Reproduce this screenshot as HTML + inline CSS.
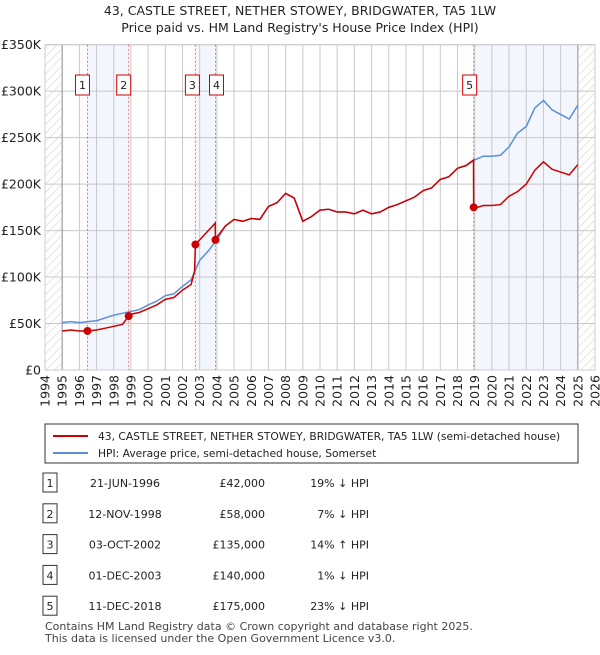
<!DOCTYPE html>
<html><head><meta charset="utf-8"><style>
body{margin:0;background:#fff;font-family:"Liberation Sans","DejaVu Sans",sans-serif;}
svg text{font-family:"DejaVu Sans","Liberation Sans",sans-serif;}
</style></head><body>
<svg id="c" width="600" height="650" xmlns="http://www.w3.org/2000/svg">
<defs><pattern id="hatch" width="6" height="6" patternUnits="userSpaceOnUse" patternTransform="rotate(45)"><line x1="0" y1="0" x2="0" y2="6" stroke="#ccc" stroke-width="1"/></pattern></defs>
<text x="300" y="15" text-anchor="middle" font-size="12.5" fill="#222">43, CASTLE STREET, NETHER STOWEY, BRIDGWATER, TA5 1LW</text>
<text x="300" y="32" text-anchor="middle" font-size="12.5" fill="#222">Price paid vs. HM Land Registry's House Price Index (HPI)</text>
<g id="plot"></g>
<g>
<rect x="45" y="424" width="533" height="39" fill="#fff" stroke="#333" stroke-width="1"/>
<line x1="53" y1="436" x2="88" y2="436" stroke="#cc0000" stroke-width="2"/>
<text x="98" y="440" font-size="10.7" fill="#222">43, CASTLE STREET, NETHER STOWEY, BRIDGWATER, TA5 1LW (semi-detached house)</text>
<line x1="53" y1="453" x2="88" y2="453" stroke="#5b8fd6" stroke-width="2"/>
<text x="98" y="457" font-size="10.7" fill="#222">HPI: Average price, semi-detached house, Somerset</text>
</g>
<g id="table" font-size="11" fill="#222"></g>
<text x="45" y="630" font-size="11" fill="#444">Contains HM Land Registry data © Crown copyright and database right 2025.</text>
<text x="45" y="642" font-size="11" fill="#444">This data is licensed under the Open Government Licence v3.0.</text>
</svg>
<script>
const hpiYears=[1995,1995.5,1996,1996.5,1997,1997.5,1998,1998.5,1999,1999.5,2000,2000.5,2001,2001.5,2002,2002.5,2003,2003.5,2004,2004.5,2005,2005.5,2006,2006.5,2007,2007.5,2008,2008.5,2009,2009.5,2010,2010.5,2011,2011.5,2012,2012.5,2013,2013.5,2014,2014.5,2015,2015.5,2016,2016.5,2017,2017.5,2018,2018.5,2019,2019.5,2020,2020.5,2021,2021.5,2022,2022.5,2023,2023.5,2024,2024.5,2025];
const hpiValues=[51,52,51,52,53,56,59,61,63,65,70,74,80,82,90,97,118,128,140,155,162,160,163,162,176,180,190,185,160,165,172,173,170,170,168,172,168,170,175,178,182,186,193,196,205,208,217,220,226,230,230,231,240,255,262,282,290,280,275,270,285];
const priceYears=[1995,1995.5,1996,1996.47,1997,1997.5,1998,1998.5,1998.87,1999,1999.5,2000,2000.5,2001,2001.5,2002,2002.5,2002.7,2002.75,2003,2003.5,2003.9,2003.92,2004,2004.5,2005,2005.5,2006,2006.5,2007,2007.5,2008,2008.5,2009,2009.5,2010,2010.5,2011,2011.5,2012,2012.5,2013,2013.5,2014,2014.5,2015,2015.5,2016,2016.5,2017,2017.5,2018,2018.5,2018.93,2018.94,2019,2019.5,2020,2020.5,2021,2021.5,2022,2022.5,2023,2023.5,2024,2024.5,2025];
const priceValues=[42,43,42,42,43,45,47,49,58,60,62,66,70,76,78,86,92,106,135,140,150,158,140,143,155,162,160,163,162,176,180,190,185,160,165,172,173,170,170,168,172,168,170,175,178,182,186,193,196,205,208,217,220,226,175,174,177,177,178,187,192,200,215,224,216,213,210,221];
const saleLabels=["1","2","3","4","5"];
const saleYears=[1996.47,1998.87,2002.75,2003.92,2018.94];
const salePrices=[42,58,135,140,175];
const saleDates=["21-JUN-1996","12-NOV-1998","03-OCT-2002","01-DEC-2003","11-DEC-2018"];
const salePriceText=["£42,000","£58,000","£135,000","£140,000","£175,000"];
const saleHpiText=["19% ↓ HPI","7% ↓ HPI","14% ↑ HPI","1% ↓ HPI","23% ↓ HPI"];
const yTicks=[0,50,100,150,200,250,300,350];
const yTickLabels=["£0","£50K","£100K","£150K","£200K","£250K","£300K","£350K"];
const xTicks=[1994,1995,1996,1997,1998,1999,2000,2001,2002,2003,2004,2005,2006,2007,2008,2009,2010,2011,2012,2013,2014,2015,2016,2017,2018,2019,2020,2021,2022,2023,2024,2025,2026];

const X0=45,X1=595,Y0=370,Y1=44.7;
const xs=y=>X0+(y-1994)/(2026-1994)*(X1-X0);
const ys=v=>Y0-v/350*(Y0-Y1);
const NS="http://www.w3.org/2000/svg";
const plot=document.getElementById('plot');
function mk(tag,attrs,parent){const e=document.createElementNS(NS,tag);for(const k in attrs)e.setAttribute(k,attrs[k]);(parent||plot).appendChild(e);return e;}
for(const [a,b] of [[0,1],[2,3]]){const r=mk('rect',{x:xs(saleYears[a]),y:Y1,width:xs(saleYears[b])-xs(saleYears[a]),height:Y0-Y1,fill:'#f3f6fd'});

}
{const r=mk('rect',{x:xs(saleYears[4]),y:Y1,width:xs(2025)-xs(saleYears[4]),height:Y0-Y1,fill:'#f3f6fd'});

}
xTicks.forEach(t=>{const l=mk('line',{x1:xs(t),x2:xs(t),y1:Y1,y2:Y0,stroke:'#c8c8c8','stroke-width':1});


const tx=mk('text',{x:0,y:0,transform:`translate(${xs(t)+4.5},${Y0+5}) rotate(-90)`,'text-anchor':'end','font-size':12.5,fill:'#222'});tx.textContent=t;

});
yTicks.forEach((t,i)=>{const l=mk('line',{x1:X0,x2:X1,y1:ys(t),y2:ys(t),stroke:'#c8c8c8','stroke-width':1});


const tx=mk('text',{x:X0-4,y:ys(t)+4.5,'text-anchor':'end','font-size':12.5,fill:'#222'});tx.textContent=yTickLabels[i];

});
for(const [a,b] of [[1994,1995],[2025,2026]]){const r=mk('rect',{x:xs(a),y:Y1,width:xs(b)-xs(a),height:Y0-Y1,fill:'url(#hatch)'});


const l=mk('line',{x1:xs(a===1994?1995:2025),x2:xs(a===1994?1995:2025),y1:Y1,y2:Y0,stroke:'#999','stroke-width':1});

}
{const r=mk('rect',{x:X0,y:Y1,width:X1-X0,height:Y0-Y1,fill:'none',stroke:'#ccc'});

}
const boxOff=[-12,-12,-10,-6,-11];
saleYears.forEach((y,i)=>{const l=mk('line',{x1:xs(y),x2:xs(y),y1:Y1,y2:Y0,stroke:'#f07070','stroke-width':1,'stroke-dasharray':'2,2'});


const bx=xs(y)+boxOff[i];
const r=mk('rect',{x:bx,y:75,width:14,height:20,fill:'#fff',stroke:'#cc0000'});


const t=mk('text',{x:bx+7,y:89,'text-anchor':'middle','font-size':11,fill:'#222'});t.textContent=saleLabels[i];

});
const hp=mk('path',{d:hpiYears.map((y,i)=>(i?'L':'M')+xs(y)+','+ys(hpiValues[i])).join(''),fill:'none',stroke:'#5b8fd6','stroke-width':1.5});


const pp=mk('path',{d:priceYears.map((y,i)=>(i?'L':'M')+xs(y)+','+ys(priceValues[i])).join(''),fill:'none',stroke:'#cc0000','stroke-width':1.5});


saleYears.forEach((y,i)=>{const c=mk('circle',{cx:xs(y),cy:ys(salePrices[i]),r:4,fill:'#cc0000'});

});
const tb=document.getElementById('table');
saleLabels.forEach((s,i)=>{const cy=483+i*30.8;
const r=mk('rect',{x:43,y:cy-10,width:14,height:19,fill:'#fff',stroke:'#333'},tb);


const cells=[[50,s,'middle'],[125,saleDates[i],'middle'],[265,salePriceText[i],'end'],[369,saleHpiText[i],'end']];
cells.forEach(c=>{const t=mk('text',{x:c[0],y:cy+4,'text-anchor':c[2]},tb);t.textContent=c[1];

});});
</script>
</body></html>
